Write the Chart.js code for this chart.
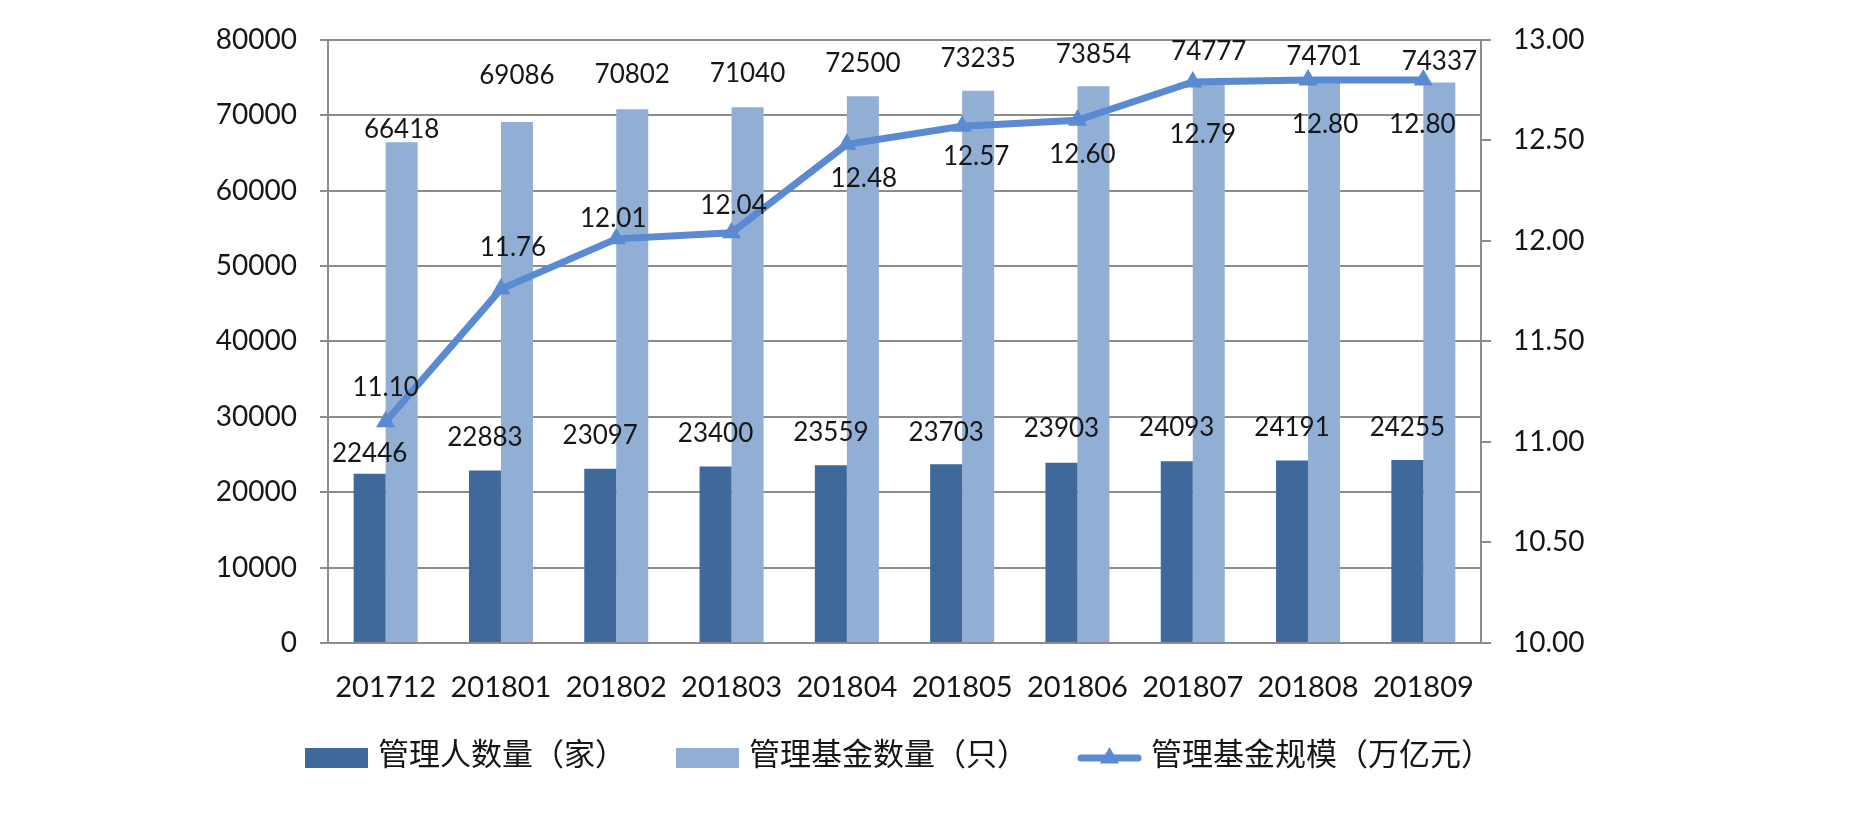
<!DOCTYPE html>
<html>
<head>
<meta charset="utf-8">
<script src="https://cdn.jsdelivr.net/npm/chart.js@4.4.0/dist/chart.umd.min.js"></script>
<style>
html,body{margin:0;padding:0;background:#ffffff;}
#wrap{width:1864px;height:816px;position:relative;}
</style>
</head>
<body>
<div id="wrap"><canvas id="c" width="1864" height="816"></canvas></div>
<script>
// ---- data ----
const categories = ['201712','201801','201802','201803','201804','201805','201806','201807','201808','201809'];
const managerCount = [22446,22883,23097,23400,23559,23703,23903,24093,24191,24255];
const fundCount = [66418,69086,70802,71040,72500,73235,73854,74777,74701,74337];
const fundScale = [11.10,11.76,12.01,12.04,12.48,12.57,12.60,12.79,12.80,12.80];
const leftAxisTicks = [0,10000,20000,30000,40000,50000,60000,70000,80000];
const rightAxisTicks = [10.00,10.50,11.00,11.50,12.00,12.50,13.00];
const seriesNames = ['管理人数量（家）','管理基金数量（只）','管理基金规模（万亿元）'];

// ---- label placement (pixel offsets from each mark; styling only) ----
const managerLabelDy = [-20,-33,-33,-33,-33,-32,-34,-34,-33,-33];
const fundLabelDy = [-13,-46,-35,-34,-33,-32,-32,-28,-23,-21];
const scaleLabelDx = [0,12,-3,2,17,14,5,10,17,-1];
const scaleLabelDy = [-34,-42,-20,-27,34,30,34,53,45,45];

// ---- styles ----
const COLOR_DARK = '#3F699B';
const COLOR_LIGHT = '#91AED5';
const COLOR_LINE = '#5A8AD2';
const GRID = '#8c8c8c';
const TEXT = '#161616';
const NUM_FONT = 'Lato, "Open Sans", sans-serif';
const CJK_FONT = '"Noto Sans CJK SC", "Noto Sans", sans-serif';

const labelPlugin = {
  id: 'valueLabels',
  afterDatasetsDraw(chart) {
    const ctx = chart.ctx;
    ctx.save();
    ctx.fillStyle = TEXT;
    ctx.textAlign = 'center';
    ctx.textBaseline = 'middle';
    ctx.font = '26px ' + NUM_FONT;
    chart.getDatasetMeta(0).data.forEach((el, i) => {
      ctx.fillText(String(managerCount[i]), el.x, el.y + managerLabelDy[i]);
    });
    chart.getDatasetMeta(1).data.forEach((el, i) => {
      ctx.fillText(String(fundCount[i]), el.x, el.y + fundLabelDy[i]);
    });
    chart.getDatasetMeta(2).data.forEach((el, i) => {
      ctx.fillText(fundScale[i].toFixed(2), el.x + scaleLabelDx[i], el.y + scaleLabelDy[i]);
    });
    ctx.restore();
  }
};

const legendPlugin = {
  id: 'customLegend',
  afterDraw(chart) {
    const ctx = chart.ctx;
    ctx.save();
    ctx.font = '31px ' + CJK_FONT;
    ctx.textBaseline = 'middle';
    ctx.textAlign = 'left';
    const boxW = 63, boxH = 20, gapText = 10, gapItem = 50;
    const widths = seriesNames.map(t => ctx.measureText(t).width);
    let total = 0;
    widths.forEach((w, i) => { total += boxW + gapText + w + (i < widths.length - 1 ? gapItem : 0); });
    const ca = chart.chartArea;
    let x = (ca.left + ca.right) / 2 - 6 - total / 2;
    const cyText = 753, cyBox = 758;
    const colors = [COLOR_DARK, COLOR_LIGHT, COLOR_LINE];
    seriesNames.forEach((name, i) => {
      if (i < 2) {
        ctx.fillStyle = colors[i];
        ctx.fillRect(x, cyBox - boxH / 2, boxW, boxH);
      } else {
        ctx.strokeStyle = COLOR_LINE;
        ctx.lineWidth = 7;
        ctx.lineCap = 'round';
        ctx.beginPath();
        ctx.moveTo(x + 3, cyBox);
        ctx.lineTo(x + boxW - 3, cyBox);
        ctx.stroke();
        const r = 11, mx = x + boxW / 2;
        ctx.fillStyle = COLOR_LINE;
        ctx.beginPath();
        ctx.moveTo(mx, cyBox - r);
        ctx.lineTo(mx + r * Math.sin(2 * Math.PI / 3), cyBox - r * Math.cos(2 * Math.PI / 3));
        ctx.lineTo(mx + r * Math.sin(4 * Math.PI / 3), cyBox - r * Math.cos(4 * Math.PI / 3));
        ctx.closePath();
        ctx.fill();
      }
      ctx.fillStyle = TEXT;
      ctx.fillText(name, x + boxW + gapText, cyText);
      x += boxW + gapText + widths[i] + gapItem;
    });
    ctx.restore();
  }
};

function draw() {
  new Chart(document.getElementById('c'), {
    type: 'bar',
    data: {
      labels: categories,
      datasets: [
        {
          label: seriesNames[0], data: managerCount, backgroundColor: COLOR_DARK,
          yAxisID: 'y', order: 2, categoryPercentage: 0.555, barPercentage: 1.0
        },
        {
          label: seriesNames[1], data: fundCount, backgroundColor: COLOR_LIGHT,
          yAxisID: 'y', order: 3, categoryPercentage: 0.555, barPercentage: 1.0
        },
        {
          type: 'line', label: seriesNames[2], data: fundScale, yAxisID: 'y1', order: 1,
          borderColor: COLOR_LINE, backgroundColor: COLOR_LINE, borderWidth: 7,
          pointStyle: 'triangle', pointRadius: 11, pointBorderWidth: 0,
          pointBackgroundColor: COLOR_LINE, tension: 0, fill: false
        }
      ]
    },
    options: {
      responsive: false,
      animation: false,
      devicePixelRatio: 1,
      layout: { padding: { left: 0, right: 0, top: 38, bottom: 113 } },
      plugins: { legend: { display: false }, tooltip: { enabled: false } },
      scales: {
        x: {
          grid: { display: false },
          border: { display: true, color: GRID, width: 2 },
          ticks: { color: TEXT, font: { family: NUM_FONT, size: 29 }, padding: 19, maxRotation: 0, autoSkip: false },
          afterFit(s) { s.height = 60; }
        },
        y: {
          position: 'left',
          min: leftAxisTicks[0], max: leftAxisTicks[leftAxisTicks.length - 1],
          afterBuildTicks(s) { s.ticks = leftAxisTicks.map(v => ({ value: v })); },
          grid: { color: GRID, lineWidth: 2, tickLength: 8, drawTicks: true },
          border: { display: true, color: GRID, width: 2 },
          ticks: { color: TEXT, font: { family: NUM_FONT, size: 28 }, padding: 23,
                   callback: v => String(v) },
          afterFit(s) { s.width = 328; }
        },
        y1: {
          position: 'right',
          min: rightAxisTicks[0], max: rightAxisTicks[rightAxisTicks.length - 1],
          afterBuildTicks(s) { s.ticks = rightAxisTicks.map(v => ({ value: v })); },
          grid: { drawOnChartArea: false, color: GRID, lineWidth: 2, tickLength: 10, drawTicks: true },
          border: { display: true, color: GRID, width: 2 },
          ticks: { color: TEXT, font: { family: NUM_FONT, size: 28 }, padding: 22,
                   callback: v => Number(v).toFixed(2) },
          afterFit(s) { s.width = 383; }
        }
      }
    },
    plugins: [labelPlugin, legendPlugin]
  });
}

Promise.all([
  document.fonts.load('28px Lato'),
  document.fonts.load('31px "Noto Sans CJK SC"', '管理')
]).then(draw, draw);
</script>
</body>
</html>
